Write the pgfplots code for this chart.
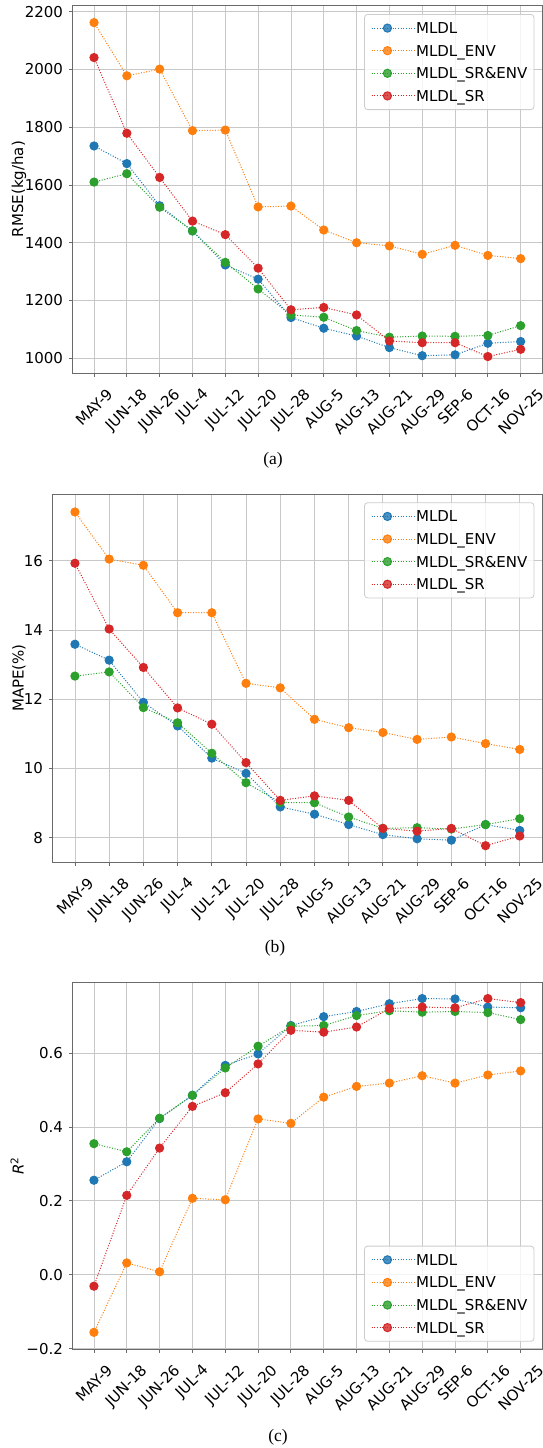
\documentclass[border=0pt]{standalone}
\usepackage{fontspec}
\setmainfont{DejaVu Sans}
\newfontfamily\capfont{Liberation Serif}
\usepackage{pgfplots}
\usepackage{pgfplotstable}
\pgfplotsset{compat=1.18}
\definecolor{c0}{HTML}{1F77B4}
\definecolor{c1}{HTML}{FF7F0E}
\definecolor{c2}{HTML}{2CA02C}
\definecolor{c3}{HTML}{D62728}
\definecolor{gridc}{HTML}{C8C8C8}
\definecolor{spine}{HTML}{6A6A6A}
\definecolor{legc}{HTML}{CCCCCC}

\pgfplotstableread{
x mldl env srenv sr
0 1735 2162 1610 2041
1 1674 1978 1639 1779
2 1528 2001 1523 1626
3 1441 1788 1441 1475
4 1323 1790 1332 1428
5 1274 1524 1240 1312
6 1141 1527 1150 1168
7 1104 1444 1142 1176
8 1077 1400 1096 1150
9 1037 1389 1073 1060
10 1009 1360 1077 1054
11 1012 1391 1076 1054
12 1052 1356 1079 1006
13 1058 1345 1113 1031
}\ta
\pgfplotstableread{
x mldl env srenv sr
0 13.59 17.41 12.67 15.93
1 13.13 16.05 12.79 14.03
2 11.91 15.87 11.76 12.92
3 11.23 14.50 11.32 11.75
4 10.30 14.50 10.44 11.28
5 9.86 12.46 9.59 10.17
6 8.89 12.33 9.02 9.08
7 8.68 11.42 9.01 9.21
8 8.38 11.18 8.60 9.08
9 8.09 11.04 8.27 8.27
10 7.97 10.84 8.29 8.19
11 7.93 10.91 8.25 8.27
12 8.38 10.72 8.38 7.77
13 8.21 10.55 8.55 8.05
}\tb
\pgfplotstableread{
x mldl env srenv sr
0 0.256 -0.156 0.355 -0.031
1 0.306 0.032 0.333 0.215
2 0.423 0.008 0.424 0.343
3 0.486 0.207 0.486 0.456
4 0.567 0.203 0.560 0.493
5 0.598 0.422 0.619 0.571
6 0.675 0.410 0.673 0.662
7 0.699 0.481 0.675 0.657
8 0.713 0.510 0.702 0.671
9 0.734 0.519 0.715 0.721
10 0.748 0.539 0.711 0.725
11 0.747 0.519 0.713 0.723
12 0.725 0.541 0.710 0.748
13 0.723 0.552 0.691 0.737
}\tc

\newcommand\rl[1]{\rotatebox{45}{#1}}
\newcommand\fs{\fontsize{15}{18}\selectfont}

\pgfplotsset{
  myax/.style={
    scale only axis,
    xmin=-0.65, xmax=13.65,
    xtick={0,...,13},
    xticklabels={\rl{MAY-9},\rl{JUN-18},\rl{JUN-26},\rl{JUL-4},\rl{JUL-12},\rl{JUL-20},\rl{JUL-28},\rl{AUG-5},\rl{AUG-13},\rl{AUG-21},\rl{AUG-29},\rl{SEP-6},\rl{OCT-16},\rl{NOV-25}},
    grid=major,
    major grid style={color=gridc, line width=0.8pt},
    axis line style={spine, line width=0.8pt},
    tick style={spine, line width=0.8pt},
    major tick length=3.5pt,
    tick align=outside,
    xtick pos=bottom, ytick pos=left,
    tick label style={font=\fs},
    xticklabel style={inner sep=0pt, anchor=north, yshift=-10.5pt},
    yticklabel style={inner sep=0pt, anchor=east, xshift=-6pt},
    legend cell align=left,
    legend image code/.code={
      \draw[mark repeat=2,mark phase=2] plot coordinates {(0pt,0pt) (15.85pt,0pt) (31.7pt,0pt)};
      \path (0pt,0pt) -- (44pt,0pt);
    },
    legend style={font=\fs, draw=legc, line width=0.8pt, rounded corners=3pt,
      fill=white, fill opacity=0.8, text opacity=1,
      inner xsep=6.5pt, inner ysep=8.2pt, row sep=11.6pt,
      nodes={inner sep=0pt, text height=11pt, text depth=0pt},
      cells={anchor=west}},
  },
  s0/.style={c0, line width=1pt, dash pattern=on 1pt off 1.65pt, mark=*, mark size=4.1pt, mark options={solid, fill=c0}},
  s1/.style={c1, line width=1pt, dash pattern=on 1pt off 1.65pt, mark=*, mark size=4.1pt, mark options={solid, fill=c1}},
  s2/.style={c2, line width=1pt, dash pattern=on 1pt off 1.65pt, mark=*, mark size=4.1pt, mark options={solid, fill=c2}},
  s3/.style={c3, line width=1pt, dash pattern=on 1pt off 1.65pt, mark=*, mark size=4.1pt, mark options={solid, fill=c3}},
}

\begin{document}
\begin{tikzpicture}
\useasboundingbox (0pt,0pt) rectangle (543pt,-1448pt);

% (a)
\begin{axis}[myax, at={(72.7pt,-373.3pt)}, anchor=south west,
  width=469.3pt, height=368.3pt,
  ymin=948, ymax=2223,
  ytick={1000,1200,1400,1600,1800,2000,2200},
  yticklabels={1000,1200,1400,1600,1800,2000,2200},
  legend style={at={(1,1)}, anchor=north east, xshift=-7.7pt, yshift=-9pt}]
\addplot[s0] table[x=x,y=mldl] {\ta};
\addplot[s1] table[x=x,y=env] {\ta};
\addplot[s2] table[x=x,y=srenv] {\ta};
\addplot[s3] table[x=x,y=sr] {\ta};
\legend{MLDL,MLDL\_ENV,MLDL\_SR\&ENV,MLDL\_SR}
\end{axis}
\node[rotate=90, font=\fs] at (19pt,-189pt) {RMSE(kg/ha)};
\node[font=\capfont\fontsize{17.5}{20}\selectfont] at (273pt,-460pt) {(a)};

% (b)
\begin{axis}[myax, at={(52.7pt,-862.3pt)}, anchor=south west,
  width=489.3pt, height=368.3pt,
  ymin=7.29, ymax=17.93,
  ytick={8,10,12,14,16},
  yticklabels={8,10,12,14,16},
  legend style={at={(1,1)}, anchor=north east, xshift=-7.7pt, yshift=-8.3pt}]
\addplot[s0] table[x=x,y=mldl] {\tb};
\addplot[s1] table[x=x,y=env] {\tb};
\addplot[s2] table[x=x,y=srenv] {\tb};
\addplot[s3] table[x=x,y=sr] {\tb};
\legend{MLDL,MLDL\_ENV,MLDL\_SR\&ENV,MLDL\_SR}
\end{axis}
\node[rotate=90, font=\fs] at (19pt,-678pt) {MAPE(\%)};
\node[font=\capfont\fontsize{17.5}{20}\selectfont] at (275pt,-948pt) {(b)};

% (c)
\begin{axis}[myax, at={(72.6pt,-1349.3pt)}, anchor=south west,
  width=469.4pt, height=367pt,
  ymin=-0.202, ymax=0.792,
  ytick={-0.2,0,0.2,0.4,0.6},
  yticklabels={−0.2,0.0,0.2,0.4,0.6},
  legend style={at={(1,0)}, anchor=south east, xshift=-7.7pt, yshift=7.6pt}]
\addplot[s0] table[x=x,y=mldl] {\tc};
\addplot[s1] table[x=x,y=env] {\tc};
\addplot[s2] table[x=x,y=srenv] {\tc};
\addplot[s3] table[x=x,y=sr] {\tc};
\legend{MLDL,MLDL\_ENV,MLDL\_SR\&ENV,MLDL\_SR}
\end{axis}
\node[rotate=90, font=\fs] at (17pt,-1166pt) {\itshape R\textsuperscript{\upshape 2}};
\node[font=\capfont\fontsize{17.5}{20}\selectfont] at (278pt,-1437.5pt) {(c)};
\end{tikzpicture}
\end{document}
